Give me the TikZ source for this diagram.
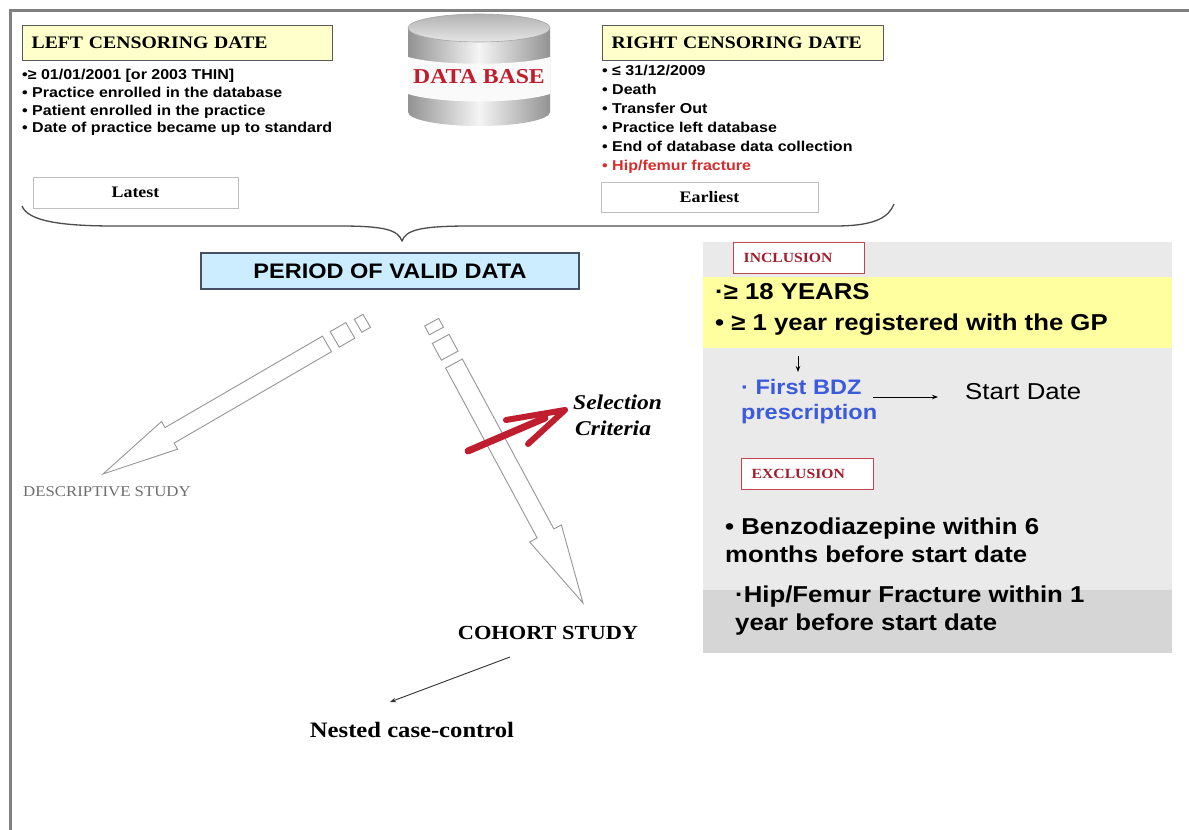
\documentclass[tikz,border=0pt]{standalone}
\usepackage{fontspec}
\newfontfamily\sfx{Liberation Sans}[FakeStretch=1.12]
\newfontfamily\rmx{Liberation Serif}[FakeStretch=1.12]
\usetikzlibrary{arrows.meta}
\definecolor{hdryellow}{RGB}{255,255,204}
\definecolor{framegray}{RGB}{128,128,128}
\definecolor{pblue}{RGB}{204,236,255}
\definecolor{pborder}{RGB}{70,80,100}
\definecolor{panelgray}{RGB}{234,234,234}
\definecolor{paneldark}{RGB}{214,214,214}
\definecolor{incyellow}{RGB}{255,255,160}
\definecolor{darkred}{RGB}{160,30,45}
\definecolor{boxred}{RGB}{190,70,80}
\definecolor{bdzblue}{RGB}{60,90,220}
\definecolor{fracred}{RGB}{215,45,45}
\definecolor{selred}{RGB}{190,30,45}
\definecolor{arrowgray}{RGB}{150,150,150}
\definecolor{descgray}{RGB}{110,110,110}
\begin{document}
\begin{tikzpicture}[x=1pt,y=-1pt,
  hdr/.style={draw=black!65, line width=1.3, fill=hdryellow, text width=#1, align=left,
    inner xsep=9, inner ysep=0, minimum height=35, anchor=north west,
    font=\rmx\bfseries\fontsize{17.6}{20}\selectfont},
  bul/.style={anchor=west, inner sep=0, text height=0.75em, text depth=0.2em,
    font=\sfx\bfseries\fontsize{14.3}{17}\selectfont},
  plainbox/.style={draw=black!25, line width=1, fill=white, inner sep=0,
    font=\rmx\bfseries\fontsize{16}{18}\selectfont},
  big/.style={anchor=west, inner sep=0, text height=0.75em, text depth=0.2em,
    font=\sfx\bfseries\fontsize{23}{26}\selectfont},
  critbox/.style={draw=boxred, line width=1.3, fill=white, text width=#1, align=left,
    inner xsep=10, inner ysep=0, minimum height=31, anchor=north west,
    text=darkred, font=\rmx\bfseries\fontsize{14}{16}\selectfont},
  hollow/.style={draw=arrowgray, line width=0.9, fill=white, line join=miter},
  thin/.style={line width=0.9, -{Stealth[length=6pt,width=4.5pt]}},
]
\useasboundingbox (0,0) rectangle (1189,830);
\fill[white] (0,0) rectangle (1189,830);

% frame
\draw[framegray, line width=3] (10,830) -- (10,10) -- (1189,10);

% ---------- left censoring ----------
\node[hdr=292pt] (lcd) at (22,25) {LEFT CENSORING DATE};
\node[bul] (lb1) at (22,77) {•≥ 01/01/2001 [or 2003 THIN]};
\node[bul] (lb2) at (22,94.7) {• Practice enrolled in the database};
\node[bul] (lb3) at (22,112.4) {• Patient enrolled in the practice};
\node[bul] (lb4) at (22,130) {• Date of practice became up to standard};
\node[plainbox, minimum width=205, minimum height=31] (latest) at (135.5,192.5) {Latest};

% ---------- database ----------
\shade[left color=gray!85, right color=gray!85, middle color=gray!8]
  (408,28) -- (408,112) arc[start angle=180, end angle=0, x radius=71, y radius=14] -- (550,28) -- cycle;
\fill[gray!4] (408,57) .. controls (440,66) and (518,66) .. (550,57) -- (550,94)
  .. controls (518,104) and (440,104) .. (408,94) -- cycle;
\shade[top color=gray!60, bottom color=gray!20] (479,28) ellipse[x radius=71, y radius=14];
\draw[gray!70, line width=0.6] (479,28) ellipse[x radius=71, y radius=14];
\node[text=selred, font=\rmx\bfseries\fontsize{21.2}{24}\selectfont] (db) at (479,77) {DATA BASE};

% ---------- right censoring ----------
\node[hdr=263pt] (rcd) at (602,25) {RIGHT CENSORING DATE};
\node[bul] (rb1) at (602,73) {• ≤ 31/12/2009};
\node[bul] (rb2) at (602,92) {• Death};
\node[bul] (rb3) at (602,111) {• Transfer Out};
\node[bul] (rb4) at (602,130) {• Practice left database};
\node[bul] (rb5) at (602,149) {• End of database data collection};
\node[bul, text=fracred] (rb6) at (602,168) {• Hip/femur fracture};
\node[plainbox, minimum width=217, minimum height=30] (earliest) at (709.5,197) {Earliest};

% ---------- brace ----------
\draw[black!70, line width=1.3] (22,206) .. controls (28,221) and (60,226) .. (115,226)
  -- (340,226) .. controls (385,226) and (398,230) .. (402,241)
  .. controls (406,230) and (420,226) .. (470,226)
  -- (835,226) .. controls (878,226) and (889,216) .. (894,204);

% ---------- period ----------
\node[draw=pborder, line width=1.5, fill=pblue, minimum width=378, minimum height=36,
  font=\sfx\bfseries\fontsize{21}{24}\selectfont] (period) at (390,271) {PERIOD OF VALID DATA};

% ---------- striped hollow arrows ----------
\begin{scope}[shift={(103,474)}, rotate=30.15]
  \draw[hollow] (0,0) -- (77,-16) -- (77,-9) -- (259,-9) -- (259,9) -- (77,9) -- (77,16) -- cycle;
  \draw[hollow] (268,-9) rectangle (286,9);
  \draw[hollow] (295,-7.5) rectangle (305,7.5);
\end{scope}
\begin{scope}[shift={(583,603)}, rotate=118.32]
  \draw[hollow] (0,0) -- (79,-18) -- (79,-9.5) -- (272,-9.5) -- (272,9.5) -- (79,9.5) -- (79,18) -- cycle;
  \draw[hollow] (281,-9.5) rectangle (300,9.5);
  \draw[hollow] (309,-8) rectangle (319,8);
\end{scope}

\node[anchor=west, inner sep=0, text=descgray, font=\rmx\fontsize{15}{17}\selectfont] (desc) at (23,492) {DESCRIPTIVE STUDY};

% ---------- selection criteria ----------
\draw[selred, line width=7, line cap=round] (468,451) -- (545,418);
\draw[selred, line width=6, line cap=round, line join=round] (506,420) -- (565,410) -- (528,444);
\node[anchor=west, inner sep=0, font=\rmx\bfseries\itshape\fontsize{21}{24}\selectfont] (sel1) at (573,402) {Selection};
\node[anchor=west, inner sep=0, font=\rmx\bfseries\itshape\fontsize{21}{24}\selectfont] (sel2) at (575,428) {Criteria};

% ---------- cohort ----------
\node[font=\rmx\bfseries\fontsize{20}{22}\selectfont] (cohort) at (548,633) {COHORT STUDY};
\node[font=\rmx\bfseries\fontsize{22}{24}\selectfont] (nested) at (412,730) {Nested case-control};
\coordinate (c1) at (510,657);
\coordinate (n1) at (390,702);
\draw[thin, black!80] (c1) -- (n1);

% ---------- criteria panel ----------
\fill[panelgray] (703,242) rectangle (1172,653);
\fill[incyellow] (703,277) rectangle (1172,348);
\fill[paneldark] (703,590) rectangle (1172,653);
\node[critbox=111pt] (incl) at (733,242) {INCLUSION};
\node[big] (inc1) at (715,297) {·≥ 18 YEARS};
\node[big] (inc2) at (715,328) {• ≥ 1 year registered with the GP};
\coordinate (d1) at (798,356);
\coordinate (d2) at (798,372);
\draw[thin, line width=0.8] (d1) -- (d2);
\node[anchor=west, inner sep=0, align=left, text=bdzblue,
  font=\sfx\bfseries\fontsize{21}{25}\selectfont] (bdz) at (741,402) {· First BDZ\\prescription};
\coordinate (s1) at (873,397);
\coordinate (s2) at (938,397);
\draw[thin, line width=1] (s1) -- (s2);
\node[anchor=west, inner sep=0, font=\sfx\fontsize{23}{26}\selectfont] (start) at (965,392) {Start Date};
\node[critbox=112pt] (excl) at (741,458) {EXCLUSION};
\node[big] (ex1) at (725,532) {• Benzodiazepine within 6};
\node[big] (ex2) at (725,560) {months before start date};
\node[big] (ex3) at (735,600) {·Hip/Femur Fracture within 1};
\node[big] (ex4) at (735,628) {year before start date};
\end{tikzpicture}
\end{document}
